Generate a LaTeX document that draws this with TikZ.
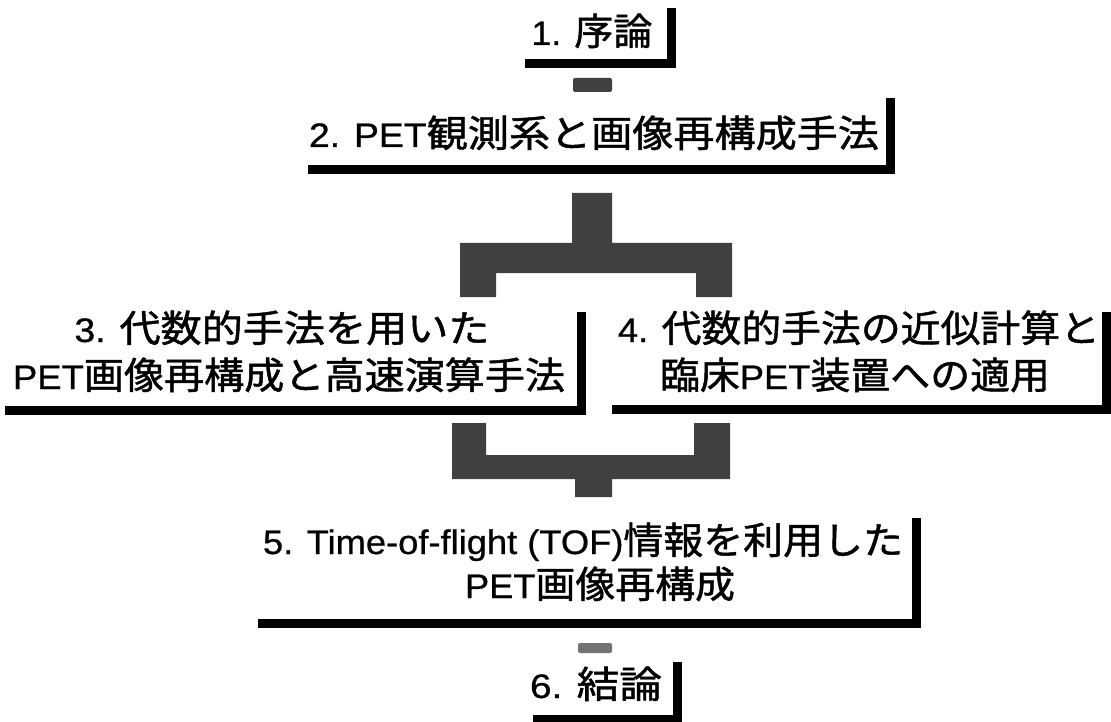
\documentclass[tikz,border=0pt]{standalone}
\usepackage{fontspec}
\usepackage{graphicx}
\setmainfont{Liberation Sans}[FakeBold=0.7]
\newfontfamily\cjk{Noto Sans CJK JP}[Scale=1.1,FakeBold=1.2]
\newcommand\J[1]{{\cjk #1}}
\newcommand\fw[2]{\resizebox{#1pt}{\height}{#2}}
\tikzset{
  txt/.style={anchor=base, inner sep=0pt, font=\fontsize{34}{40}\selectfont},
  shadowbar/.style={line width=9pt, draw=black, line join=miter},
  conn/.style={fill=black!75, draw=none},
  connlight/.style={fill=black!55, draw=none}
}
\begin{document}
\begin{tikzpicture}[x=1pt,y=-1pt]
\useasboundingbox (0,0) rectangle (1111,722);
% texts
\node[txt] (t1)  at (592,45)  {\fw{121}{1. \J{序論}}};
\node[txt] (t2)  at (594,147) {\fw{570}{2. PET\J{観測系と画像再構成手法}}};
\node[txt] (t3a) at (282,342) {\fw{415}{3. \J{代数的手法を用いた}}};
\node[txt] (t3b) at (289,389) {\fw{552}{PET\J{画像再構成と高速演算手法}}};
\node[txt] (t4a) at (859,342) {\fw{482}{4. \J{代数的手法の近似計算と}}};
\node[txt] (t4b) at (855,389) {\fw{390}{\J{臨床}PET\J{装置への適用}}};
\node[txt] (t5a) at (583,554) {\fw{640}{5. Time-of-flight (TOF)\J{情報を利用した}}};
\node[txt] (t5b) at (600,598) {\fw{270}{PET\J{画像再構成}}};
\node[txt] (t6)  at (596,698) {\fw{132}{6. \J{結論}}};
% shadow bars (bottom and right edges of each box)
\draw[shadowbar] (525,64) -- (671,64) -- (671,8);
\draw[shadowbar] (308,170) -- (890,170) -- (890,98);
\draw[shadowbar] (5,410) -- (581,410) -- (581,312);
\draw[shadowbar] (612,409) -- (1106,409) -- (1106,312);
\draw[shadowbar] (258,623) -- (916,623) -- (916,518);
\draw[shadowbar] (533,719) -- (677,719) -- (677,662);
% connectors
\fill[conn,rounded corners=2pt] (573,78) rectangle (612,92);
\fill[conn] (572,193) -- (612,193) -- (612,243) -- (732,243) -- (732,297)
  -- (696,297) -- (696,273) -- (496,273) -- (496,297) -- (460,297)
  -- (460,243) -- (572,243) -- cycle;
\fill[conn] (452,423) -- (486,423) -- (486,455) -- (694,455) -- (694,423)
  -- (730,423) -- (730,479) -- (612,479) -- (612,497) -- (575,497)
  -- (575,479) -- (452,479) -- cycle;
\fill[connlight,rounded corners=2pt] (578,643) rectangle (612,653);
\end{tikzpicture}
\end{document}
